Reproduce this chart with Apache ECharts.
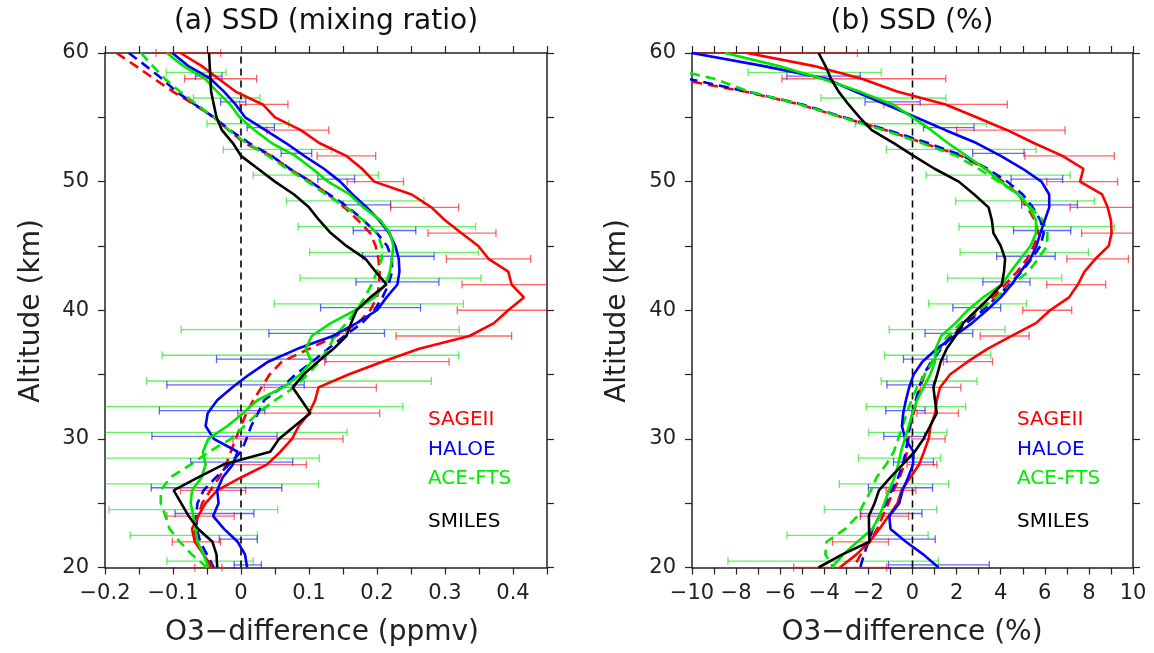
<!DOCTYPE html>
<html>
<head>
<meta charset="utf-8">
<script src="https://cdn.jsdelivr.net/npm/echarts/dist/echarts.min.js"></script>
<style>
html, body { margin: 0; padding: 0; background: #ffffff; }
#chart { width: 1154px; height: 653px; }
</style>
</head>
<body>
<div id="chart"></div>
<script>
// Altitude levels (km) of every profile, top to bottom
const ALT = [60,59,58,57,56,55,54,53,52,51,50,49,48,47,46,45,44,43,42,41,40,
             39,38,37,36,35,34,33,32,31,30,29,28,27,26,25,24,23,22,21,20];

// ---- (a) mixing-ratio differences (ppmv) ----
const sageL   = [-0.089,-0.058,-0.033,-0.008,0.032,0.050,0.088,0.115,0.155,0.178,0.196,
                 0.251,0.280,0.300,0.324,0.349,0.364,0.393,0.398,0.416,0.393,
                 0.372,0.336,0.262,0.208,0.158,0.114,0.109,0.100,0.085,0.075,
                 0.058,0.038,0.000,-0.035,-0.052,-0.063,-0.072,-0.068,-0.055,-0.042];
const haloeL  = [-0.101,-0.078,-0.045,-0.025,-0.008,0.006,0.036,0.066,0.093,0.122,0.146,
                 0.164,0.185,0.203,0.218,0.227,0.232,0.233,0.230,0.214,0.200,
                 0.170,0.135,0.083,0.040,0.012,-0.013,-0.035,-0.049,-0.052,-0.040,
                 -0.005,-0.012,-0.027,-0.035,-0.033,-0.041,-0.025,-0.005,0.006,0.009];
const aceL    = [-0.109,-0.085,-0.053,-0.035,-0.016,-0.002,0.020,0.045,0.080,0.105,0.128,
                 0.160,0.180,0.205,0.219,0.224,0.222,0.219,0.212,0.196,0.168,
                 0.132,0.104,0.095,0.104,0.087,0.062,0.024,0.003,-0.020,-0.048,
                 -0.056,-0.052,-0.058,-0.072,-0.074,-0.070,-0.067,-0.064,-0.055,-0.048];
const smilesL = [-0.047,-0.046,-0.045,-0.044,-0.040,-0.036,-0.028,-0.012,0.000,0.025,0.050,
                 0.078,0.100,0.115,0.132,0.155,0.183,0.198,0.214,0.190,0.170,
                 0.162,0.155,0.136,0.113,0.092,0.076,0.089,0.102,0.079,0.056,
                 0.043,-0.026,-0.063,-0.099,-0.088,-0.077,-0.063,-0.042,-0.036,-0.035];
const sageDL  = [-0.183,-0.155,-0.128,-0.100,-0.069,-0.040,-0.018,0.005,0.045,0.071,0.103,
                 0.128,0.152,0.172,0.190,0.198,0.202,0.204,0.203,0.200,0.190,
                 0.172,0.140,0.100,0.060,0.042,0.030,0.018,0.008,0.000,-0.008,
                 -0.015,-0.022,-0.032,-0.045,-0.057,-0.063,-0.069,-0.065,-0.055,-0.045];
const haloeDL = [-0.165,-0.140,-0.116,-0.095,-0.068,-0.040,-0.016,0.012,0.045,0.072,0.102,
                 0.130,0.158,0.180,0.200,0.215,0.222,0.222,0.217,0.208,0.196,
                 0.178,0.152,0.128,0.105,0.080,0.060,0.034,0.025,0.015,0.008,
                 0.000,-0.018,-0.037,-0.055,-0.064,-0.066,-0.065,-0.060,-0.050,-0.040];
const aceDL   = [-0.147,-0.130,-0.112,-0.090,-0.065,-0.040,-0.018,0.008,0.040,0.068,0.098,
                 0.125,0.155,0.180,0.200,0.207,0.207,0.200,0.192,0.182,0.170,
                 0.155,0.138,0.128,0.115,0.098,0.078,0.050,0.025,0.005,-0.015,
                 -0.047,-0.074,-0.104,-0.118,-0.118,-0.111,-0.105,-0.090,-0.072,-0.050];

// ---- (b) relative differences (%) ----
const sageR   = [-7.5,-4.5,-2.3,-0.7,1.5,2.9,4.3,5.5,6.8,7.75,7.6,
                 8.6,8.85,9.0,9.03,8.9,8.3,7.8,7.5,7.1,6.24,
                 5.6,4.5,3.4,2.5,1.7,1.25,1.10,1.03,0.82,0.73,
                 0.52,0.30,-0.1,-0.5,-0.68,-1.08,-1.5,-1.95,-2.55,-3.3];
const haloeR  = [-10.0,-6.8,-3.9,-2.6,-1.2,0.15,1.5,2.9,4.0,5.0,5.85,
                 6.2,6.2,6.0,5.8,5.62,5.35,4.9,4.5,4.0,3.37,
                 2.7,1.9,1.1,0.45,0.05,-0.15,-0.3,-0.42,-0.48,-0.33,
                 0.05,0.02,-0.2,-0.45,-0.6,-1.05,-1.0,-0.3,0.5,1.18];
const aceR    = [-8.5,-6.1,-4.1,-2.4,-0.9,0.0,0.85,1.6,2.45,3.3,4.0,
                 4.8,5.3,5.6,5.6,5.35,4.9,4.45,4.05,3.2,2.5,
                 1.95,1.3,1.05,1.02,0.8,0.5,0.2,0.0,-0.17,-0.35,
                 -0.52,-0.65,-0.82,-1.06,-1.28,-1.5,-1.82,-2.5,-3.15,-3.66];
const smilesR = [-4.26,-3.95,-3.7,-3.35,-2.9,-2.4,-1.85,-0.85,0.05,1.0,2.1,
                 2.8,3.45,3.6,3.67,4.0,4.2,4.15,4.05,3.5,2.9,
                 2.3,1.95,1.55,1.28,1.12,0.95,1.02,1.10,0.8,0.5,
                 0.1,-0.45,-1.0,-1.52,-1.72,-1.98,-1.97,-1.95,-3.2,-4.26];
const sageDR  = [null,null,-10.7,-7.6,-5.1,-3.2,-1.2,0.5,2.2,3.3,4.1,
                 4.8,5.2,5.55,5.7,5.5,5.2,4.75,4.2,3.65,3.1,
                 2.35,1.75,1.25,0.9,0.55,0.35,0.2,0.05,-0.1,-0.18,
                 -0.25,-0.38,-0.58,-0.86,-1.09,-1.35,-1.6,-1.95,-2.35,-2.67];
const haloeDR = [null,null,-10.2,-7.5,-5.0,-3.1,-1.1,0.7,2.3,3.4,4.3,
                 5.0,5.45,5.8,5.95,5.8,5.4,4.95,4.4,3.8,3.2,
                 2.45,1.8,1.3,0.85,0.5,0.3,0.15,0.0,-0.12,-0.22,
                 -0.3,-0.45,-0.65,-0.95,-1.2,-1.5,-1.8,-2.0,-2.2,-2.37];
const aceDR   = [null,-11.5,-9.0,-7.4,-5.1,-3.2,-1.3,0.4,2.0,3.0,3.9,
                 4.8,5.35,5.9,6.12,6.1,5.7,5.25,4.5,3.8,3.0,
                 2.2,1.6,1.2,0.9,0.55,0.2,-0.05,-0.25,-0.45,-0.65,
                 -0.85,-1.2,-1.63,-1.88,-2.2,-2.5,-3.05,-3.9,-3.95,-3.58];

// ---- error bars: altitude of each bar and its [low, high] ends ----
const errAltSage  = [60,58,56,54,52,50,48,46,44,42,40,38,36,34,32,30,28,26,24,22,20];
const errAltHaloe = [58.2,56.2,54.2,52.2,50.2,48.2,46.2,44.2,42.2,40.2,
                     38.2,36.2,34.2,32.2,30.2,28.2,26.2,24.2,22.2,20.2];
const errAltAce   = [58.5,56.5,54.5,52.5,50.5,48.5,46.5,44.5,42.5,40.5,
                     38.5,36.5,34.5,32.5,30.5,28.5,26.5,24.5,22.5,20.5];

const errSageL  = [[-0.125,-0.030],[-0.083,0.023],[-0.002,0.069],[0.038,0.129],[0.112,0.198],
                   [0.156,0.239],[0.220,0.320],[0.275,0.375],[0.302,0.426],[0.325,0.472],
                   [0.318,0.468],[0.228,0.398],[0.123,0.306],[0.034,0.199],[-0.005,0.204],
                   [-0.012,0.150],[-0.020,0.096],[-0.089,0.007],[-0.109,-0.010],[-0.101,-0.030],
                   [-0.068,-0.028]];
const errHaloeL = [[-0.067,-0.028],[-0.030,0.007],[0.009,0.049],[0.059,0.104],[0.113,0.167],
                   [0.150,0.220],[0.165,0.257],[0.179,0.284],[0.169,0.291],[0.117,0.264],
                   [0.041,0.211],[-0.036,0.125],[-0.109,0.093],[-0.120,0.035],[-0.131,0.053],
                   [-0.074,0.076],[-0.132,0.060],[-0.097,0.019],[-0.032,0.024],[-0.010,0.030]];
const errAceL   = [[-0.110,-0.022],[-0.070,0.028],[-0.050,0.070],[-0.026,0.133],[0.018,0.202],
                   [0.067,0.269],[0.084,0.345],[0.101,0.349],[0.087,0.353],[0.049,0.327],
                   [-0.088,0.321],[-0.116,0.320],[-0.139,0.280],[-0.214,0.238],[-0.228,0.156],
                   [-0.223,0.115],[-0.244,0.114],[-0.194,0.054],[-0.163,0.024],[-0.109,0.018]];

const errSageR  = [[-12.5,-2.5],[-5.92,1.51],[-1.3,4.3],[2.0,6.92],[5.1,9.15],
                   [6.09,9.3],[7.15,10.55],[7.67,10.4],[7.0,9.79],[6.09,8.76],
                   [5.0,7.22],[3.07,5.29],[1.40,3.63],[0.35,2.19],[0.2,2.08],
                   [-0.03,1.48],[-0.25,1.11],[-1.2,0.15],[-2.37,-0.18],[-3.63,-1.09],
                   [-5.39,-1.17]];
const errHaloeR = [[-5.7,-2.37],[-2.15,0.35],[0.5,2.79],[2.73,5.06],[4.47,6.81],
                   [4.95,7.48],[4.58,7.18],[3.82,6.47],[3.19,5.33],[1.83,4.0],
                   [0.57,2.73],[-0.41,1.56],[-1.16,0.95],[-1.21,0.57],[-1.3,0.55],
                   [-0.86,0.95],[-2.0,0.91],[-2.35,0.43],[-1.95,1.03],[-1.09,3.48]];
const errAceR   = [[-7.46,-1.42],[-4.15,1.51],[-2.6,3.37],[-1.19,5.6],[0.62,7.15],
                   [1.96,8.25],[2.11,9.15],[2.16,7.98],[1.59,6.77],[0.73,5.18],
                   [-1.06,4.2],[-1.27,3.55],[-1.42,2.92],[-2.1,2.41],[-1.99,1.56],
                   [-2.45,1.27],[-3.32,1.64],[-4.0,1.10],[-5.69,0.71],[-8.37,1.18]];

// ---- legend entries ----
const legendNames  = ['SAGEII', 'HALOE', 'ACE-FTS', 'SMILES'];
const legendColors = ['#ff0000', '#0000ff', '#00ee00', '#000000'];

const RED = '#ff0000', BLUE = '#0000ff', GREEN = '#00e600', BLACK = '#000000';
const FONT = '"DejaVu Sans", "Liberation Sans", sans-serif';
const INK = '#222222';

function profile(vals) {
  const out = [];
  ALT.forEach((a, i) => { if (vals[i] !== null) out.push([vals[i], a]); });
  return out;
}
function bars(alts, ranges) {
  return alts.map((a, i) => [ranges[i][0], ranges[i][1], a]);
}

function errBar(color) {
  return function (params, api) {
    const y = api.value(2);
    const a = api.coord([api.value(0), y]);
    const b = api.coord([api.value(1), y]);
    const cs = params.coordSys;
    const x0 = cs.x, x1 = cs.x + cs.width;
    const l = Math.max(a[0], x0), r = Math.min(b[0], x1);
    const st = { stroke: color, lineWidth: 1.3 };
    const h = 4;
    const kids = [{ type: 'line', shape: { x1: l, y1: a[1], x2: r, y2: a[1] }, style: st }];
    if (a[0] >= x0 - 0.5) kids.push({ type: 'line', shape: { x1: a[0], y1: a[1] - h, x2: a[0], y2: a[1] + h }, style: st });
    if (b[0] <= x1 + 0.5) kids.push({ type: 'line', shape: { x1: b[0], y1: b[1] - h, x2: b[0], y2: b[1] + h }, style: st });
    return { type: 'group', children: kids };
  };
}

function errSeries(g, data, color) {
  return {
    type: 'custom', xAxisIndex: g, yAxisIndex: g, silent: true, z: 1,
    renderItem: errBar(color), data: data, encode: { x: [0, 1], y: 2 }
  };
}
function lineSeries(g, data, color, dashed) {
  return {
    type: 'line', xAxisIndex: g, yAxisIndex: g, data: data, symbol: 'none',
    silent: true, clip: true, z: dashed ? 2 : 3,
    lineStyle: { color: color, width: 2.6, type: dashed ? [10, 6] : 'solid' }
  };
}

const axisLine = { onZero: false, lineStyle: { color: INK, width: 1.5 } };
const tick = { show: true, inside: false, length: 7, lineStyle: { color: INK, width: 1.2 } };

function xAxis(g, min, max, step, pos, fmt) {
  return {
    type: 'value', gridIndex: g, min: min, max: max, interval: step, position: pos,
    axisLine: axisLine, axisTick: tick, splitLine: { show: false },
    axisLabel: fmt ? { show: true, formatter: fmt, color: INK, fontFamily: FONT, fontSize: 21, margin: 16,
                       showMaxLabel: true, showMinLabel: true, hideOverlap: false }
                   : { show: false }
  };
}
function yAxis(g, pos, labels) {
  return {
    type: 'value', gridIndex: g, min: 20, max: 60, interval: 5, position: pos,
    axisLine: axisLine, axisTick: tick, splitLine: { show: false },
    axisLabel: labels ? { show: true, color: INK, fontFamily: FONT, fontSize: 21, margin: 16,
                          formatter: v => (v % 10 === 0 ? String(v) : '') }
                      : { show: false }
  };
}

const fmtPpmv = v => {
  const k = Math.round(v * 100);
  if (k % 10 !== 0) return '';
  if (k === 0) return '0';
  return (k < 0 ? '\u2212' : '') + (Math.abs(k) / 100).toFixed(1);
};
const fmtPct = v => {
  const k = Math.round(v);
  if (k % 2 !== 0) return '';
  return (k < 0 ? '\u2212' : '') + Math.abs(k);
};

const zeroLine = g => ({
  type: 'line', xAxisIndex: g, yAxisIndex: g, data: [[0, 20], [0, 60]], symbol: 'none',
  silent: true, z: 2, lineStyle: { color: '#000', width: 1.6, type: [7, 5] }
});

function txt(x, y, text, size, color, align, rot) {
  return {
    type: 'text', x: x, y: y, rotation: rot || 0, silent: true,
    style: { text: text, fill: color, font: size + 'px ' + FONT, textAlign: align,
             textVerticalAlign: 'middle', verticalAlign: 'middle' }
  };
}

const graphics = [
  txt(326, 22, '(a) SSD (mixing ratio)', 28, '#111', 'center'),
  txt(912, 22, '(b) SSD (%)', 28, '#111', 'center'),
  txt(322, 633, 'O3\u2212difference (ppmv)', 28, INK, 'center'),
  txt(912, 633, 'O3\u2212difference (%)', 28, INK, 'center'),
  txt(32, 311, 'Altitude (km)', 28, INK, 'center', Math.PI / 2),
  txt(618, 311, 'Altitude (km)', 28, INK, 'center', Math.PI / 2)
];
const legendY = [420, 450, 479, 522];
legendNames.forEach((n, i) => {
  graphics.push(txt(428, legendY[i], n, 20, legendColors[i], 'left'));
  graphics.push(txt(1017, legendY[i], n, 20, legendColors[i], 'left'));
});

const option = {
  animation: false,
  backgroundColor: '#ffffff',
  grid: [
    { left: 105, top: 53, width: 442, height: 514.5 },
    { left: 692, top: 53, width: 441, height: 514.5 }
  ],
  xAxis: [
    xAxis(0, -0.2, 0.45, 0.05, 'bottom', fmtPpmv),
    xAxis(1, -10, 10, 1, 'bottom', fmtPct),
    xAxis(0, -0.2, 0.45, 0.05, 'top', null),
    xAxis(1, -10, 10, 1, 'top', null)
  ],
  yAxis: [
    yAxis(0, 'left', true),
    yAxis(1, 'left', true),
    yAxis(0, 'right', false),
    yAxis(1, 'right', false)
  ],
  graphic: graphics,
  series: [
    errSeries(0, bars(errAltAce, errAceL), 'rgba(0,230,0,0.6)'),
    errSeries(0, bars(errAltHaloe, errHaloeL), 'rgba(0,0,255,0.6)'),
    errSeries(0, bars(errAltSage, errSageL), 'rgba(255,0,0,0.6)'),
    errSeries(1, bars(errAltAce, errAceR), 'rgba(0,230,0,0.6)'),
    errSeries(1, bars(errAltHaloe, errHaloeR), 'rgba(0,0,255,0.6)'),
    errSeries(1, bars(errAltSage, errSageR), 'rgba(255,0,0,0.6)'),
    zeroLine(0), zeroLine(1),
    lineSeries(0, profile(sageDL), RED, true),
    lineSeries(0, profile(haloeDL), BLUE, true),
    lineSeries(0, profile(aceDL), GREEN, true),
    lineSeries(1, profile(sageDR), RED, true),
    lineSeries(1, profile(haloeDR), BLUE, true),
    lineSeries(1, profile(aceDR), GREEN, true),
    lineSeries(0, profile(sageL), RED, false),
    lineSeries(0, profile(haloeL), BLUE, false),
    lineSeries(0, profile(aceL), GREEN, false),
    lineSeries(0, profile(smilesL), BLACK, false),
    lineSeries(1, profile(sageR), RED, false),
    lineSeries(1, profile(haloeR), BLUE, false),
    lineSeries(1, profile(aceR), GREEN, false),
    lineSeries(1, profile(smilesR), BLACK, false)
  ]
};

const chart = echarts.init(document.getElementById('chart'), null, { renderer: 'canvas' });
chart.setOption(option);
</script>
</body>
</html>
